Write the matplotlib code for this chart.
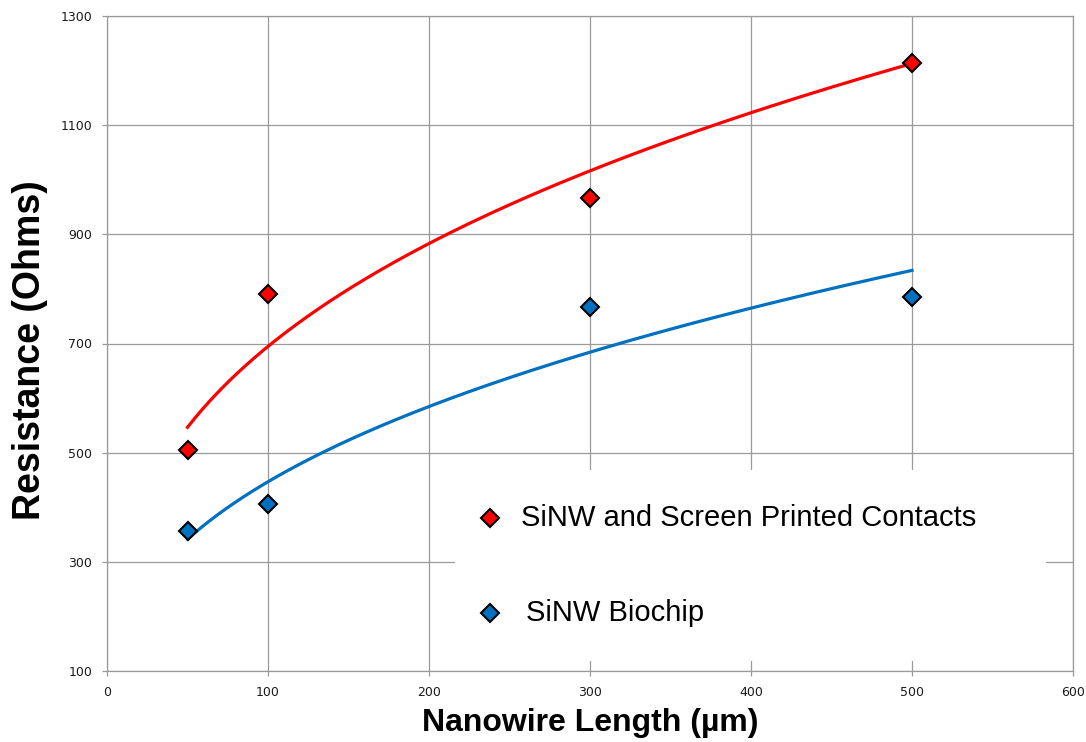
import numpy as np
import matplotlib
matplotlib.use('Agg')
import matplotlib.pyplot as plt
from matplotlib.patches import Rectangle

# Nanowire length (um) and measured resistance (Ohms)
length = np.array([50, 100, 300, 500])
res_screen = np.array([505, 790, 967, 1213])
res_biochip = np.array([356, 406, 766, 786])

labels = ['SiNW and Screen Printed Contacts', 'SiNW Biochip']
colors = ['#FF0000', '#0070C0']

fig = plt.figure(figsize=(10.86, 7.42), dpi=100)
ax = fig.add_axes([107 / 1086, 1 - 671 / 742, 966 / 1086, 655 / 742])

xs = np.linspace(50, 500, 200)
for yy, col in zip([res_screen, res_biochip], colors):
    # power-law trend line (as in Excel)
    b, a = np.polyfit(np.log(length), np.log(yy), 1)
    ax.plot(xs, np.exp(a) * xs ** b, color=col, lw=2.3, zorder=3)
    ax.plot(length, yy, ls='none', marker='D', ms=9.5, mfc=col, mec='k', mew=1.5, zorder=4)

ax.set_xlim(0, 600)
ax.set_ylim(100, 1300)
ax.set_xticks(np.arange(0, 601, 100))
ax.set_yticks(np.arange(100, 1301, 200))
ax.grid(True, color='#9a9a9a', lw=0.9, zorder=0)
ax.set_axisbelow(True)
for s in ax.spines.values():
    s.set_color('#9a9a9a')
    s.set_linewidth(0.9)
ax.tick_params(direction='out', length=3.5, width=0.9, color='#9a9a9a',
               labelsize=9, labelcolor='#1a1a1a', pad=7)

# white legend box covering the grid
ax.add_patch(Rectangle((0.3602, 0.0153), 0.612, 0.2916, transform=ax.transAxes,
                       facecolor='white', edgecolor='none', zorder=5))
leg_y = [0.2336, 0.0885]
leg_tx = [0.4286, 0.4337]
for lab, col, ly, tx in zip(labels, colors, leg_y, leg_tx):
    ax.plot([0.3965], [ly], transform=ax.transAxes, marker='D', ms=9, mfc=col,
            mec='k', mew=1.5, ls='none', zorder=6, clip_on=False)
    ax.text(tx, ly, lab, transform=ax.transAxes, fontsize=21, family='Liberation Sans',
            va='center', ha='left', zorder=6)

fig.text(30 / 1086, 1 - 350 / 742, 'Resistance (Ohms)', rotation=90, ha='center', va='center',
         fontsize=27, fontweight='bold', family='Liberation Sans')
fig.text(590 / 1086, 1 - 723 / 742, 'Nanowire Length (µm)', ha='center', va='center',
         fontsize=23, fontweight='bold', family='Liberation Sans')

fig.savefig('out.png', dpi=100)
